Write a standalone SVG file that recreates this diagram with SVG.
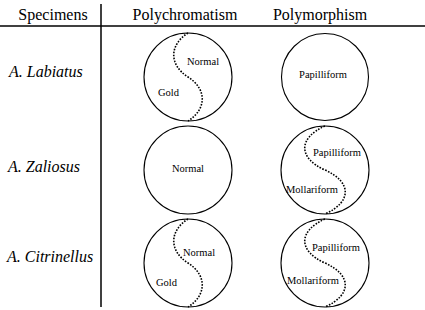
<svg xmlns="http://www.w3.org/2000/svg" xmlns:xlink="http://www.w3.org/1999/xlink" width="425" height="310" viewBox="0 0 425 310">
<style>
.bg{fill:#fff}
.rule{stroke:#000;stroke-width:1.5;fill:none}
.c{fill:#fff;stroke:#000;stroke-width:1.1}
.s{fill:none;stroke:#000;stroke-width:1.6;stroke-dasharray:1.6 1.4}
text{font-family:'Liberation Serif',Tinos,'DejaVu Serif',serif;fill:#000}
.h{font-size:16px}
.r{font-size:16px;font-style:italic}
.t{font-size:10.5px}
</style>
<defs>
<path id="s1" d="M0,-44 C-19,-32 -19,-12 0,0 C19,12 19,32 0,44"/>
<path id="s2" d="M0,-44 C-27,-32 -27,-12 0,0 C27,12 27,32 0,44"/>
</defs>
<rect class="bg" x="0" y="0" width="425" height="310"/>
<g id="table">
<line class="rule" x1="0" y1="26" x2="425" y2="26"/>
<line class="rule" x1="101" y1="4" x2="101" y2="307"/>
<text class="h" x="53" y="20" text-anchor="middle">Specimens</text>
<text class="h" x="185" y="20" text-anchor="middle">Polychromatism</text>
<text class="h" x="320" y="20" text-anchor="middle">Polymorphism</text>
<text class="r" x="9" y="77">A. Labiatus</text>
<text class="r" x="8" y="172">A. Zaliosus</text>
<text class="r" x="7" y="262">A. Citrinellus</text>
</g>
<g id="labiatus-chroma">
<circle class="c" cx="188" cy="77" r="44"/>
<use href="#s1" xlink:href="#s1" class="s" transform="translate(188,77)"/>
<text class="t" x="187" y="65">Normal</text>
<text class="t" x="158" y="96">Gold</text>
</g>
<g id="labiatus-morph">
<circle class="c" cx="325" cy="77" r="43.5"/>
<text class="t" x="323" y="78" text-anchor="middle">Papilliform</text>
</g>
<g id="zaliosus-chroma">
<circle class="c" cx="188" cy="170" r="44"/>
<text class="t" x="188" y="172" text-anchor="middle">Normal</text>
</g>
<g id="zaliosus-morph">
<circle class="c" cx="325" cy="170" r="44"/>
<use href="#s2" xlink:href="#s2" class="s" transform="translate(325,170)"/>
<text class="t" x="313" y="156">Papilliform</text>
<text class="t" x="286" y="193">Mollariform</text>
</g>
<g id="citrinellus-chroma">
<circle class="c" cx="188" cy="263" r="44"/>
<use href="#s1" xlink:href="#s1" class="s" transform="translate(188,263)"/>
<text class="t" x="183" y="256">Normal</text>
<text class="t" x="156" y="286">Gold</text>
</g>
<g id="citrinellus-morph">
<circle class="c" cx="325" cy="263" r="44"/>
<use href="#s2" xlink:href="#s2" class="s" transform="translate(325,263)"/>
<text class="t" x="312" y="251">Papilliform</text>
<text class="t" x="287" y="284">Mollariform</text>
</g>
</svg>
